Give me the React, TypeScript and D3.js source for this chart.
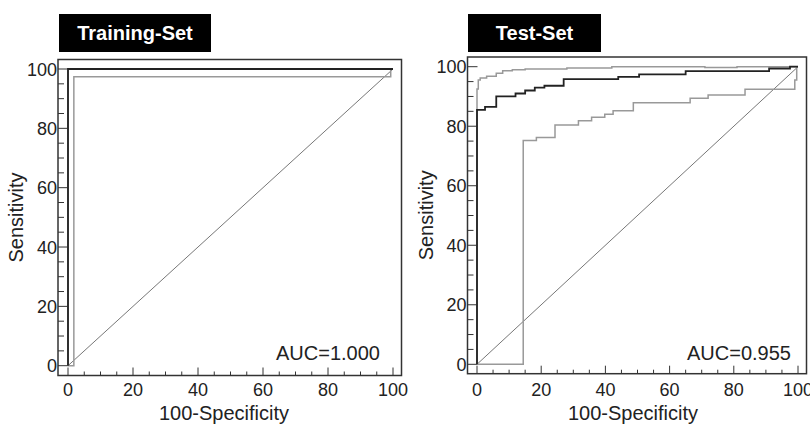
import React from 'react';
import * as d3 from 'd3';

const W = 810;
const H = 424;

// tick values
const majorTicks = [0, 20, 40, 60, 80, 100];
const minorTicks = d3.range(0, 101, 5).filter(v => v % 20 !== 0);

// Training set ROC (x = 100-Specificity, y = Sensitivity), step-before points
const trainRoc = [[0, 0], [0, 100], [100, 100]];
const trainUpper = [[0, 0], [0.4, 100], [100, 100]];
const trainLower = [[0, 0], [1.8, 0], [99.3, 97.4], [100, 100]];

// Test set ROC
const testRoc = [
  [0, 0], [2.5, 85.5], [6, 86.5], [12, 90], [15, 91], [18, 92], [21, 93],
  [27, 93.6], [44, 95.8], [50.5, 96.6], [65, 97.4], [91, 98.5], [97.5, 99.4], [100, 100]
];
const testUpper = [
  [0, 0], [0.4, 92.5], [1, 95.5], [3, 96.2], [6, 96.8], [8, 97.8], [11, 98.6],
  [15, 99.0], [28, 99.2], [42, 99.6], [71, 100], [81, 99.7], [100, 100]
];
const testLower = [
  [0, 0], [14.4, 0], [18.5, 75.2], [24.3, 76.2], [31.6, 80.4], [35.7, 81.8],
  [39.8, 83.0], [42.4, 84.0], [48.7, 85.2], [66.4, 87.9], [72, 89.4],
  [83.5, 90.5], [99, 92.4], [99.6, 95.5], [100, 100]
];
const diagonal = [[0, 0], [100, 100]];

const panels = [
  {
    title: 'Training-Set', auc: 'AUC=1.000',
    roc: trainRoc, upper: trainUpper, lower: trainLower,
    frame: { x0: 58, x1: 401.5, y0: 59.5, y1: 375.5 },
    titleBox: { x0: 59, x1: 211, y0: 14, y1: 52 },
    xr: [68, 393], yr: [365.7, 69],
    yLabelX: 23, xLabelX: 224, aucX: 380
  },
  {
    title: 'Test-Set', auc: 'AUC=0.955',
    roc: testRoc, upper: testUpper, lower: testLower,
    frame: { x0: 467.5, x1: 806.5, y0: 57, y1: 373.7 },
    titleBox: { x0: 468, x1: 601, y0: 14, y1: 52 },
    xr: [477, 798], yr: [364.3, 66.7],
    yLabelX: 433, xLabelX: 633, aucX: 791
  }
];

const font = '"Liberation Sans", Arial, sans-serif';

const Panel = ({ p }: { p: any }) => {
  const x = d3.scaleLinear().domain([0, 100]).range(p.xr);
  const y = d3.scaleLinear().domain([0, 100]).range(p.yr);
  const step = d3.line<number[]>().x(d => x(d[0])).y(d => y(d[1])).curve(d3.curveStepBefore);
  const straight = d3.line<number[]>().x(d => x(d[0])).y(d => y(d[1]));
  const f = p.frame;
  const tb = p.titleBox;

  return (
    <g>
      {/* title box */}
      <rect x={tb.x0} y={tb.y0} width={tb.x1 - tb.x0} height={tb.y1 - tb.y0} fill="#000" />
      <text x={(tb.x0 + tb.x1) / 2} y={40} textAnchor="middle" fill="#fff"
        fontSize={20} fontWeight="bold" fontFamily={font}>{p.title}</text>

      {/* frame */}
      <rect x={f.x0} y={f.y0} width={f.x1 - f.x0} height={f.y1 - f.y0}
        fill="none" stroke="#333" strokeWidth={1.5} />

      {/* y ticks */}
      {majorTicks.map(t => (
        <g key={'ym' + t}>
          <line x1={f.x0} x2={f.x0 + 10} y1={y(t)} y2={y(t)} stroke="#333" strokeWidth={1} />
          <text x={f.x0 - 1} y={y(t) + 6.5} textAnchor="end" fontSize={18} fontFamily={font} fill="#222">{t}</text>
        </g>
      ))}
      {minorTicks.map(t => (
        <line key={'yn' + t} x1={f.x0} x2={f.x0 + 6} y1={y(t)} y2={y(t)} stroke="#333" strokeWidth={1} />
      ))}

      {/* x ticks */}
      {majorTicks.map(t => (
        <g key={'xm' + t}>
          <line x1={x(t)} x2={x(t)} y1={f.y1} y2={f.y1 - 8} stroke="#333" strokeWidth={1} />
          <text x={x(t)} y={396} textAnchor="middle" fontSize={18} fontFamily={font} fill="#222">{t}</text>
        </g>
      ))}
      {minorTicks.map(t => (
        <line key={'xn' + t} x1={x(t)} x2={x(t)} y1={f.y1} y2={f.y1 - 4} stroke="#333" strokeWidth={1} />
      ))}

      {/* axis titles */}
      <text x={p.xLabelX} y={420} textAnchor="middle" fontSize={20} fontFamily={font} fill="#222">
        100-Specificity
      </text>
      <text transform={`translate(${p.yLabelX},${(f.y0 + f.y1) / 2}) rotate(-90)`} textAnchor="middle"
        fontSize={20} fontFamily={font} fill="#222">Sensitivity</text>

      {/* diagonal */}
      <path d={straight(diagonal) || ''} fill="none" stroke="#777" strokeWidth={1} />

      {/* confidence bounds */}
      <path d={step(p.upper) || ''} fill="none" stroke="#999" strokeWidth={1.5} />
      <path d={step(p.lower) || ''} fill="none" stroke="#999" strokeWidth={1.5} />

      {/* ROC curve */}
      <path d={step(p.roc) || ''} fill="none" stroke="#222" strokeWidth={1.8} />

      {/* AUC */}
      <text x={p.aucX} y={360} textAnchor="end" fontSize={20} fontFamily={font} fill="#222">{p.auc}</text>
    </g>
  );
};

export default function App() {
  return (
    <svg width={W} height={H} style={{ position: 'absolute', left: 0, top: 0, background: '#fff' }}>
      <rect width={W} height={H} fill="#fff" />
      {panels.map(p => <Panel key={p.title} p={p} />)}
    </svg>
  );
}
